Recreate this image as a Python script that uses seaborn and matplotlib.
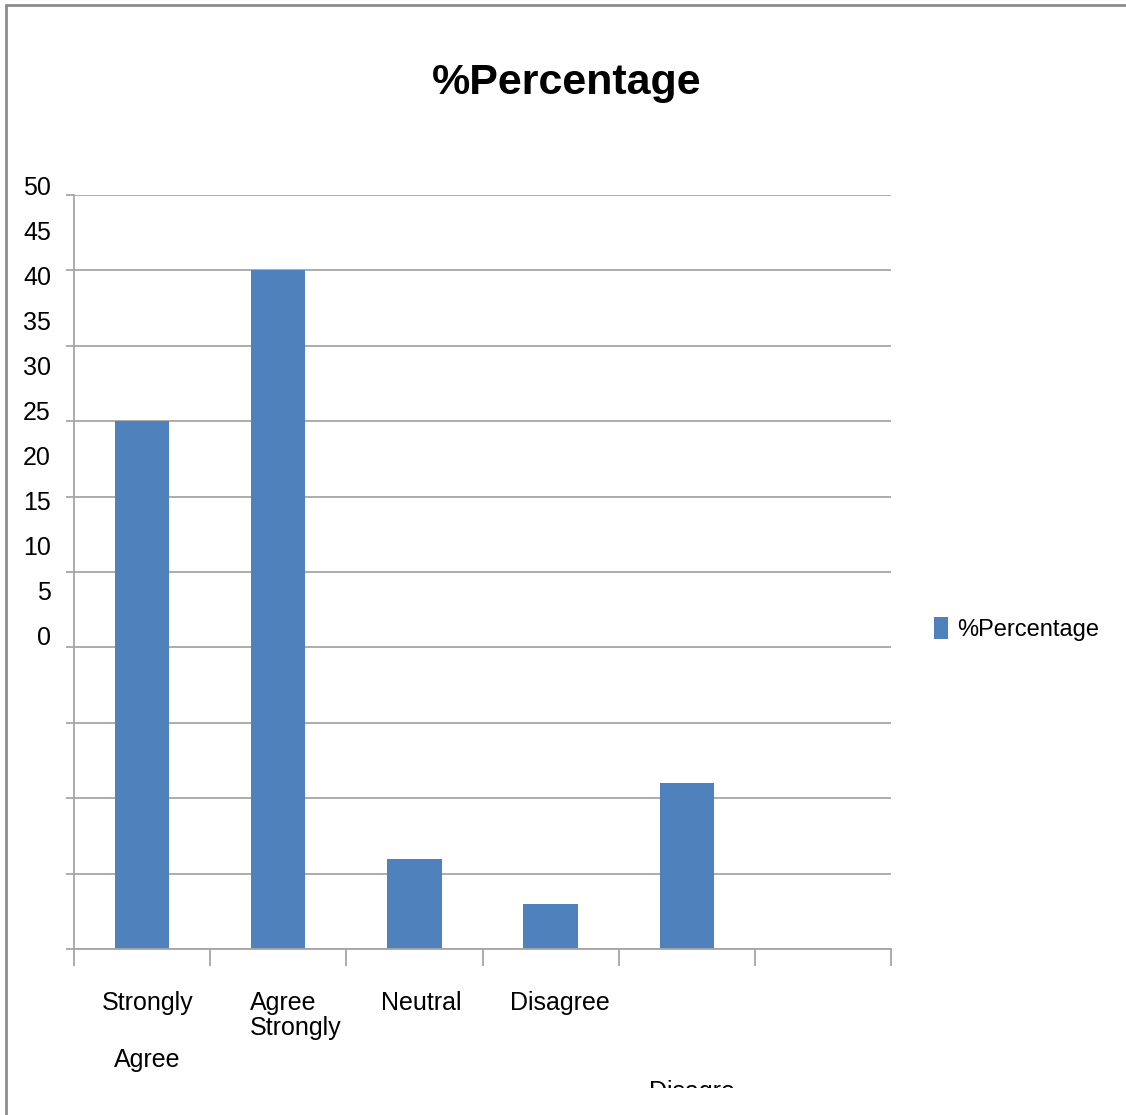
import matplotlib
matplotlib.use("Agg")
import matplotlib.pyplot as plt
import seaborn as sns
import pandas as pd
from matplotlib.patches import Patch
from matplotlib.lines import Line2D
from matplotlib.transforms import Bbox, TransformedBbox

# Survey responses (% of respondents)
categories = ["Strongly Agree", "Agree", "Neutral", "Disagree", "Strongly Disagree"]
percentages = [35, 45, 6, 3, 11]
y_ticks = [0, 5, 10, 15, 20, 25, 30, 35, 40, 45, 50]
y_tick_labels = ["0", "5", "10", "15", "20", "25", "30", "35", "40", "45", "50"]
series_name = "%Percentage"
title_text = "%Percentage"

BAR = "#4F81BD"
GRID = "#A6A6A6"
W, H = 1126, 1115

sns.set_theme(style="white")
plt.rcParams["font.family"] = ["Liberation Sans", "DejaVu Sans"]
plt.rcParams["text.color"] = "black"

fig = plt.figure(figsize=(W / 100, H / 100), dpi=100)
fig.patch.set_facecolor("white")
ax = fig.add_axes([74 / W, 1 - 949 / H, (891 - 74) / W, (949 - 195) / H])

df = pd.DataFrame({"category": categories, "value": percentages})
sns.barplot(data=df, x="category", y="value", color=BAR, width=0.4,
            saturation=1, ax=ax, edgecolor="none")

ax.set_xlim(-0.5, 5.5)
ax.set_ylim(0, 50)
ax.set_xlabel("")
ax.set_ylabel("")

# horizontal gridlines with short outward ticks
ax.set_yticks(y_ticks)
ax.set_yticklabels([])
ax.yaxis.grid(True, color=GRID, linewidth=1.3)
ax.set_axisbelow(True)
ax.tick_params(axis="y", which="both", left=True, length=6, color=GRID,
               width=1.3, direction="out")

# category boundary ticks on the x axis
ax.set_xticks([i - 0.5 for i in range(7)])
ax.set_xticklabels([])
ax.tick_params(axis="x", bottom=True, length=12, color=GRID, width=1.3,
               direction="out")

for s in ["top", "right"]:
    ax.spines[s].set_visible(False)
ax.spines["left"].set_color(GRID)
ax.spines["left"].set_linewidth(1.3)
ax.spines["bottom"].set_color(GRID)
ax.spines["bottom"].set_linewidth(1.3)

# y value labels, stacked on a tighter pitch than the gridlines
for v, lab in zip(y_ticks, y_tick_labels):
    yb = 645 - v * 9.0
    fig.text(51 / W, 1 - yb / H, lab, ha="right", va="baseline",
             fontsize=18, color="black")

# category labels
cat_texts = [
    (148, 1010, "Strongly", "center"),
    (147, 1067, "Agree", "center"),
    (250, 1010, "Agree", "left"),
    (250, 1035, "Strongly", "left"),
    (421, 1010, "Neutral", "center"),
    (560, 1010, "Disagree", "center"),
]
for px, py, s, ha in cat_texts:
    fig.text(px / W, 1 - py / H, s, ha=ha, va="baseline", fontsize=18,
             color="black")

cut = fig.text(649 / W, 1 - 1099 / H, "Disagre", ha="left", va="baseline",
               fontsize=18, color="black")
cut.set_clip_box(TransformedBbox(Bbox([[0, 1 - 1088 / H], [1, 1]]),
                                 fig.transFigure))
cut.set_clip_on(True)

# title
fig.text(567 / W, 1 - 94 / H, title_text, ha="center", va="baseline",
         fontsize=31, fontweight="bold", color="black")

# legend
handle = Patch(facecolor=BAR, edgecolor="none", label=series_name)
fig.legend(handles=[handle], loc="center left",
           bbox_to_anchor=(934 / W, 1 - 629 / H), frameon=False,
           fontsize=17, handlelength=0.58, handleheight=1.05,
           handletextpad=0.4, borderpad=0, borderaxespad=0,
           labelcolor="black")

# outer frame (top and left edges)
fig.add_artist(Line2D([6 / W, 1], [1 - 5 / H, 1 - 5 / H],
                      transform=fig.transFigure, color="#8C8C8C", linewidth=2))
fig.add_artist(Line2D([6 / W, 6 / W], [0, 1 - 5 / H],
                      transform=fig.transFigure, color="#8C8C8C", linewidth=2))

fig.savefig("out.png", dpi=100, facecolor="white")
